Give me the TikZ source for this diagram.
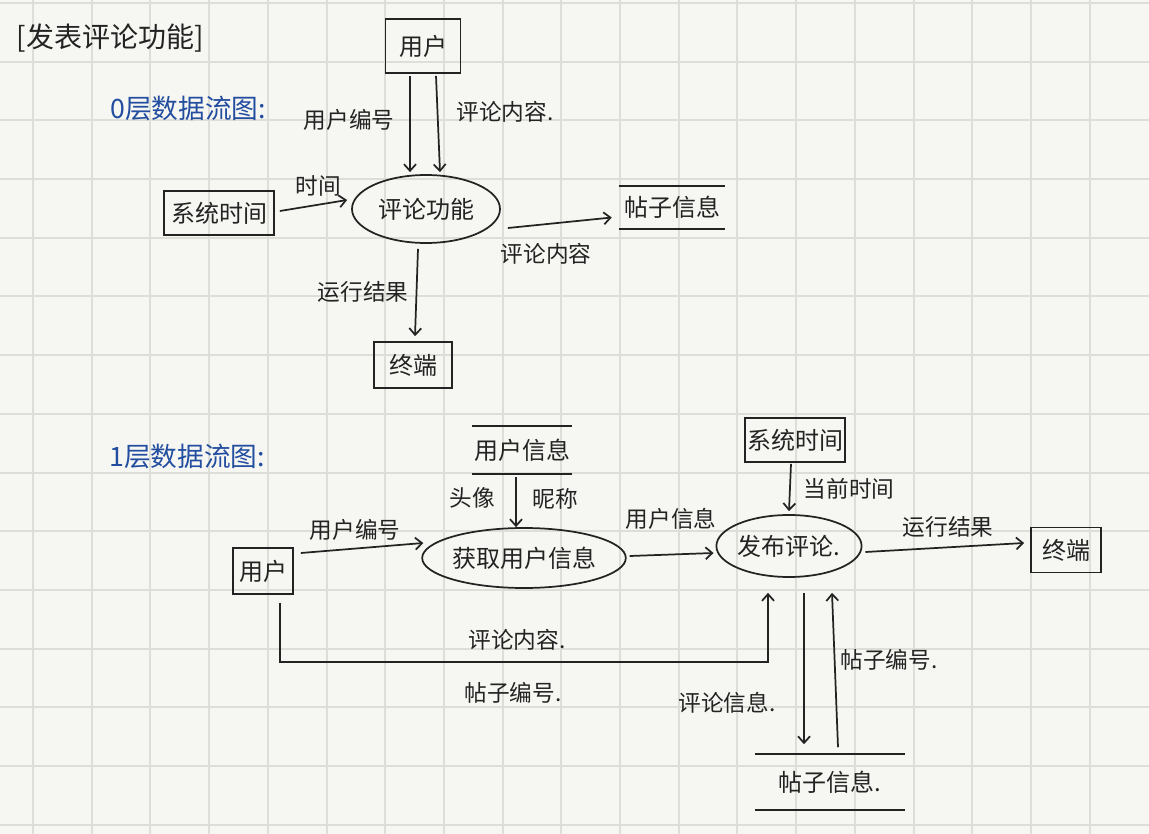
\documentclass[tikz,border=0pt]{standalone}
\usepackage{fontspec}
\setmainfont{Noto Sans CJK SC}
\usetikzlibrary{shapes.geometric,arrows.meta,calc}
\definecolor{ink}{RGB}{35,35,35}
\definecolor{inkblue}{RGB}{35,78,160}
\definecolor{paper}{RGB}{246,246,242}
\definecolor{gridline}{RGB}{222,222,217}

\begin{document}
\begin{tikzpicture}[x=0.75pt,y=0.75pt,yscale=-1,xscale=1,
	entity/.style={draw=ink,line width=1.3pt,inner sep=0pt,text=ink,font=\fontsize{18}{20}\selectfont},
	process/.style={ellipse,draw=ink,line width=1.3pt,inner sep=0pt,text=ink,font=\fontsize{18}{20}\selectfont},
	datastore/.style={inner sep=0pt,text=ink,font=\fontsize{18}{20}\selectfont},
	storeline/.style={draw=ink,line width=1.3pt},
	flow/.style={draw=ink,line width=1.3pt,-{Straight Barb[length=5pt,width=9pt]}},
	flowlabel/.style={inner sep=0.75pt,text=ink,font=\fontsize{17}{19}\selectfont},
	heading/.style={inner sep=0.75pt,text=inkblue,font=\fontsize{20}{22}\selectfont}]

	%Paper and grid
	\fill[paper] (0,0) rectangle (1149,834);
	\useasboundingbox (0,0) rectangle (1149,834);
	\foreach \gx in {0,...,18} \draw[gridline,line width=1.5pt] (33+58.7*\gx,0) -- (33+58.7*\gx,834);
	\foreach \gy in {0,...,14} \draw[gridline,line width=1.5pt] (0,3+58.7*\gy) -- (1149,3+58.7*\gy);

	% Text Node
	\node[inner sep=0.75pt,text=ink,font=\fontsize{21}{24}\selectfont] (title) at (110,38) {[发表评论功能]};
	% Text Node
	\node[heading] (head0) at (188,108) {0层数据流图:};
	% Text Node
	\node[heading] (head1) at (187,456) {1层数据流图:};

	%Level 0: Shapes
	\node[entity,minimum width=56.25pt,minimum height=40.5pt] (u0) at (423,46) {用户};
	\node[process,minimum width=111pt,minimum height=51pt] (p0) at (426,209) {评论功能};
	\node[entity,minimum width=82.5pt,minimum height=33pt] (s0) at (219,213) {系统时间};
	\node[entity,minimum width=58.5pt,minimum height=34.5pt] (t0) at (413,365) {终端};
	\node[datastore,minimum width=79.5pt,minimum height=32.25pt] (d0) at (672,207.5) {帖子信息};
	\draw[storeline] (d0.north west) -- (d0.north east) (d0.south west) -- (d0.south east);

	%Level 0: Straight Lines
	\draw[flow] ($(u0.south)+(-13,2)$) -- ($(p0.north)+(-16,-2)$);
	\draw[flow] ($(u0.south)+(13,2)$) -- ($(p0.north)+(14,-2)$);
	\draw[flow] ($(s0.east)+(5,-2)$) -- ($(p0.west)+(-4,-9)$);
	\draw[flow] ($(p0.east)+(7,19)$) -- ($(d0.west)+(-7,10)$);
	\draw[flow] ($(p0.south)+(-8,5)$) -- ($(t0.north)+(2,-5)$);

	% Text Node
	\node[flowlabel] (l0a) at (349,120) {用户编号};
	\node[flowlabel] (l0b) at (505,112) {评论内容.};
	\node[flowlabel] (l0c) at (318,186) {时间};
	\node[flowlabel] (l0d) at (546,254) {评论内容};
	\node[flowlabel] (l0e) at (363,292) {运行结果};

	%Level 1: Shapes
	\node[entity,minimum width=45pt,minimum height=34.5pt] (u1) at (263,571) {用户};
	\node[process,minimum width=148.5pt,minimum height=45pt] (g1) at (524,558) {获取用户信息};
	\node[datastore,minimum width=75pt,minimum height=36pt] (d1) at (522,450) {用户信息};
	\draw[storeline] (d1.north west) -- (d1.north east) (d1.south west) -- (d1.south east);
	\node[process,minimum width=100.5pt,minimum height=46.5pt] (p1) at (789,546) {发布评论.};
	\node[entity,minimum width=75pt,minimum height=33pt] (s1) at (795,440) {系统时间};
	\node[entity,minimum width=52.5pt,minimum height=33.75pt] (t1) at (1066,550) {终端};
	\node[datastore,minimum width=112.5pt,minimum height=41.25pt] (d2) at (830,782) {帖子信息.};
	\draw[storeline] (d2.north west) -- (d2.north east) (d2.south west) -- (d2.south east);

	%Level 1: Straight Lines
	\draw[flow] ($(u1.east)+(7,-18)$) -- ($(g1.west)+(2,-15)$);
	\draw[flow] ($(d1.south)+(-6,3)$) -- ($(g1.north)+(-8,0)$);
	\draw[flow] ($(g1.east)+(3,-2)$) -- ($(p1.west)+(-2,7)$);
	\draw[flow] ($(s1.south)+(-4,1)$) -- ($(p1.north)+(0,-3)$);
	\draw[flow] ($(p1.east)+(3,6)$) -- ($(t1.west)+(-6,-7)$);
	\draw[flow] ($(u1.south)+(17,8)$) -- ++(0,59) -| ($(p1.south)+(-21,15)$);
	\draw[flow] ($(p1.south)+(15,15)$) -- ($(d2.north)+(-26,-10)$);
	\draw[flow] ($(d2.north)+(8,-7)$) -- ($(p1.south)+(43,15)$);

	% Text Node
	\node[flowlabel] (l1a) at (355,530) {用户编号};
	\node[flowlabel] (l1b) at (472,498) {头像};
	\node[flowlabel] (l1c) at (555,499) {昵称};
	\node[flowlabel] (l1d) at (671,519) {用户信息};
	\node[flowlabel] (l1e) at (849,489) {当前时间};
	\node[flowlabel] (l1f) at (948,527) {运行结果};
	\node[flowlabel] (l1g) at (517,640) {评论内容.};
	\node[flowlabel] (l1h) at (513,693) {帖子编号.};
	\node[flowlabel] (l1i) at (727,703) {评论信息.};
	\node[flowlabel] (l1j) at (889,660) {帖子编号.};

\end{tikzpicture}
\end{document}
